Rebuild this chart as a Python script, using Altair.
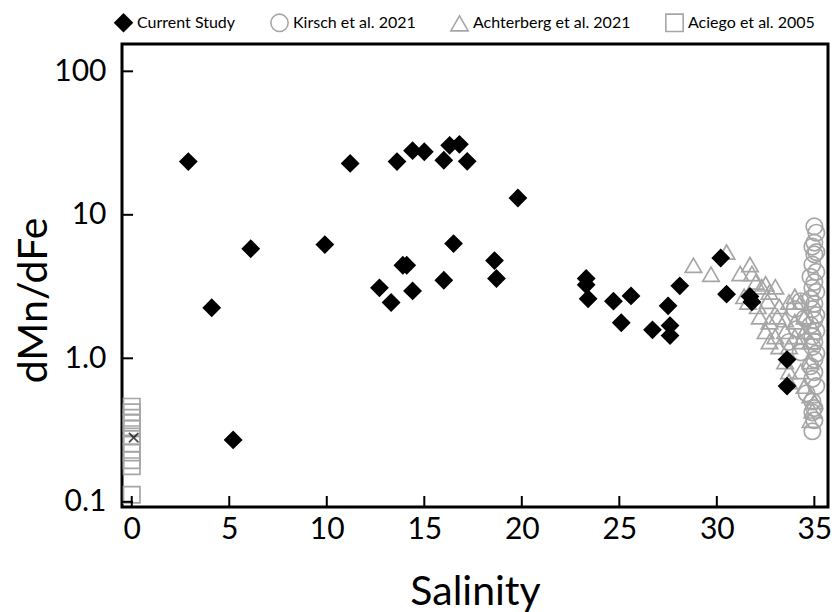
import altair as alt
import pandas as pd

# ---------------- data ----------------
series_names = ["Current Study", "Kirsch et al. 2021", "Achterberg et al. 2021", "Aciego et al. 2005"]

current_sal = [2.9, 4.1, 5.2, 6.1, 9.9, 11.2, 12.7, 13.3, 13.6, 13.9, 14.1, 14.4, 14.4, 15.0,
               16.0, 16.3, 16.5, 16.8, 17.2, 16.0, 18.6, 18.7, 19.8, 23.3, 23.3, 23.4, 24.7,
               25.1, 25.6, 26.7, 27.5, 27.6, 27.6, 28.1, 30.2, 30.5, 31.7, 31.8, 33.6, 33.6]
current_ratio = [23.5, 2.25, 0.27, 5.8, 6.2, 22.8, 3.1, 2.45, 23.5, 4.45, 4.45, 2.95, 28.0, 27.5,
                 24.0, 30.5, 6.3, 31.0, 23.6, 3.5, 4.8, 3.6, 13.1, 3.6, 3.25, 2.6, 2.5,
                 1.77, 2.72, 1.58, 2.32, 1.69, 1.44, 3.2, 5.0, 2.8, 2.7, 2.47, 0.98, 0.64]

kirsch_sal = [35.0, 35.1, 35.0, 34.9, 35.1, 35.0, 34.9, 35.1, 34.8, 35.0, 34.9, 35.1, 34.8, 35.0,
              34.9, 35.1, 35.0, 34.8, 35.1, 34.9, 35.0, 34.9, 35.1, 35.0, 34.8, 35.0, 34.9, 35.1,
              34.3, 34.0, 34.5, 34.1, 33.7, 34.3, 34.6, 34.9, 35.0, 34.9, 35.0, 34.9]
kirsch_ratio = [8.3, 7.5, 6.4, 6.0, 5.5, 5.3, 4.5, 4.0, 3.7, 3.4, 3.1, 2.9, 2.6, 2.4,
                2.2, 2.0, 1.85, 1.7, 1.55, 1.42, 1.3, 1.2, 1.08, 0.98, 0.88, 0.8, 0.72, 0.64,
                2.5, 2.2, 1.9, 1.6, 1.3, 1.1, 0.57, 0.5, 0.45, 0.42, 0.37, 0.31]

achter_sal = [28.8, 29.7, 30.5, 31.2, 31.7, 31.8, 32.0, 32.3, 32.5, 32.7, 31.4, 31.6, 32.1,
              32.6, 33.0, 33.2, 33.7, 34.0, 34.3, 32.2, 32.7, 33.1, 33.5, 34.0, 34.5, 32.5,
              33.0, 33.5, 34.0, 34.5, 34.9, 32.7, 33.2, 33.7, 34.3, 34.8, 33.5, 33.7, 34.3,
              34.8, 33.7, 34.5, 34.8, 35.0, 34.9, 34.8]
achter_ratio = [4.45, 3.85, 5.5, 3.9, 4.5, 3.9, 3.4, 3.15, 3.3, 2.9, 2.7, 2.47, 2.3,
                2.5, 3.15, 2.3, 2.47, 2.7, 2.47, 1.95, 1.8, 1.95, 1.86, 1.8, 1.95, 1.54,
                1.42, 1.54, 1.42, 1.54, 1.66, 1.31, 1.21, 1.21, 1.31, 1.31, 0.95, 0.81, 0.81,
                0.95, 0.69, 0.64, 0.55, 0.5, 0.43, 0.37]

aciego_sal = [0.0] * 11
aciego_ratio = [0.46, 0.42, 0.385, 0.356, 0.324, 0.285, 0.255, 0.221, 0.195, 0.177, 0.112]

aciego_mean_sal = [0.1]
aciego_mean_ratio = [0.28]

x_tick_values = [0, 5, 10, 15, 20, 25, 30, 35]
y_tick_values = [0.1, 1, 10, 100]

# ---------------- build table ----------------
rows = []
for s, r in zip(aciego_sal, aciego_ratio):
    rows.append({"sal": s, "ratio": r, "series": series_names[3]})
for s, r in zip(kirsch_sal, kirsch_ratio):
    rows.append({"sal": s, "ratio": r, "series": series_names[1]})
for s, r in zip(achter_sal, achter_ratio):
    rows.append({"sal": s, "ratio": r, "series": series_names[2]})
for s, r in zip(current_sal, current_ratio):
    rows.append({"sal": s, "ratio": r, "series": series_names[0]})
df = pd.DataFrame(rows)
df_mean = pd.DataFrame({"sal": aciego_mean_sal, "ratio": aciego_mean_ratio})
df_xt = pd.DataFrame({"sal": x_tick_values})
df_yt = pd.DataFrame({"ratio": y_tick_values})

W, H = 706, 463
FONT = "Lato"
GRAY = "#a6a6a6"

xscale = alt.Scale(domain=[-0.5, 35.7], nice=False, zero=False)
yscale = alt.Scale(type="log", domain=[0.092, 155], nice=False)

xaxis = alt.Axis(values=x_tick_values, tickSize=0, domain=False, grid=False,
                 labelFontSize=30, labelPadding=7, labelFont=FONT, labelColor="black",
                 titleFontSize=41, titleFont=FONT, titleFontWeight="normal",
                 titleColor="black", titleY=85, titleBaseline="middle")
yaxis = alt.Axis(values=y_tick_values, tickSize=0, domain=False, grid=False,
                 labelExpr="datum.value < 0.5 ? '0.1' : datum.value < 5 ? '1.0' : datum.value < 50 ? '10' : '100'",
                 labelFontSize=30, labelPadding=16, labelFont=FONT, labelColor="black",
                 titleFontSize=41, titleFont=FONT, titleFontWeight="normal",
                 titleColor="black", titleX=-88, titleY=256, titleAngle=-90,
                 titleAlign="center", titleBaseline="middle")

X = lambda: alt.X("sal:Q", scale=xscale, title="Salinity", axis=xaxis)
Y = lambda: alt.Y("ratio:Q", scale=yscale, title="dMn/dFe", axis=yaxis)

legend = alt.Legend(orient="none", legendX=-8, legendY=-31, direction="horizontal",
                    labelFont=FONT, labelFontSize=16, labelColor="black", labelLimit=0,
                    symbolSize=300, symbolStrokeWidth=1.6, columnPadding=31, labelOffset=4,
                    padding=0, symbolLimit=0, title=None)

points = alt.Chart(df).mark_point(size=270, strokeWidth=1.7, opacity=1).encode(
    x=X(), y=Y(),
    shape=alt.Shape("series:N", scale=alt.Scale(domain=series_names,
                    range=["diamond", "circle", "triangle-up", "square"]), legend=legend),
    fill=alt.Fill("series:N", scale=alt.Scale(domain=series_names,
                  range=["black", "transparent", "transparent", "transparent"]), legend=legend),
    stroke=alt.Stroke("series:N", scale=alt.Scale(domain=series_names,
                      range=["black", GRAY, GRAY, GRAY]), legend=legend),
)

mean_mark = alt.Chart(df_mean).mark_point(
    shape="M-1,-1L1,1M-1,1L1,-1", size=90, stroke="black", strokeWidth=1.8, filled=False
).encode(x=X(), y=Y())

xticks = alt.Chart(df_xt).mark_rule(color="black", strokeWidth=2).encode(
    x=X(),
    y=alt.value(H),
    y2=alt.value(H - 11),
)
yticks = alt.Chart(df_yt).mark_rule(color="black", strokeWidth=2).encode(
    y=Y(),
    x=alt.value(0),
    x2=alt.value(11),
)

chart = alt.layer(points, mean_mark, xticks, yticks).properties(
    width=W, height=H,
    autosize=alt.AutoSizeParams(type="none"),
    padding={"left": 122, "top": 44, "right": 12, "bottom": 105},
    background="white",
).configure_view(
    stroke="black", strokeWidth=3
)

chart.save("out.html", embed_options={"renderer": "svg", "actions": False})
